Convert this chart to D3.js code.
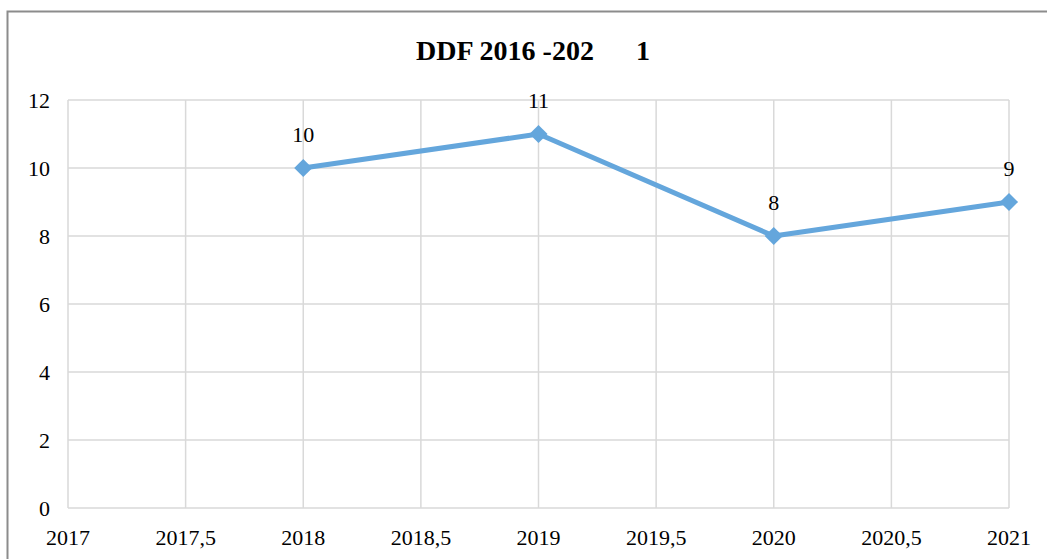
<!DOCTYPE html>
<html><head><meta charset="utf-8">
<script src="https://cdn.jsdelivr.net/npm/d3@7"></script>
<style>body{margin:0;background:#fff}svg{display:block}</style>
</head><body>
<svg id="c" width="1047" height="559"></svg>
<script>
const years = [2018, 2019, 2020, 2021];
const values = [10, 11, 8, 9];
const xTicks = [2017, 2017.5, 2018, 2018.5, 2019, 2019.5, 2020, 2020.5, 2021];
const yTicks = [0, 2, 4, 6, 8, 10, 12];
const title = "DDF 2016 -202\u00a0\u00a0\u00a0\u00a0\u00a0\u00a01";

const svg = d3.select("#c");
const font = "'Liberation Serif','Times New Roman',serif";
const x = d3.scaleLinear().domain([2017, 2021]).range([68, 1009]);
const y = d3.scaleLinear().domain([0, 12]).range([508, 100]);

// frame
svg.append("path").attr("d", "M7.5,559 V11.5 H1047").attr("fill", "none")
  .attr("stroke", "#8c8c8c").attr("stroke-width", 2);

// grid
svg.append("g").selectAll("line").data(yTicks).join("line")
  .attr("x1", x(2017)).attr("x2", x(2021)).attr("y1", d => y(d)).attr("y2", d => y(d))
  .attr("stroke", "#d9d9d9").attr("stroke-width", 1.5);
svg.append("g").selectAll("line").data(xTicks).join("line")
  .attr("x1", d => x(d)).attr("x2", d => x(d)).attr("y1", y(0)).attr("y2", y(12))
  .attr("stroke", "#d9d9d9").attr("stroke-width", 1.5);

// axes labels
const fmt = d => String(d).replace(".", ",");
svg.append("g").selectAll("text").data(yTicks).join("text")
  .attr("x", 50).attr("y", d => y(d)).attr("dy", "0.35em").attr("text-anchor", "end")
  .attr("font-family", font).attr("font-size", 22).attr("fill", "#000").text(d => d);
svg.append("g").selectAll("text").data(xTicks).join("text")
  .attr("x", d => x(d)).attr("y", 545).attr("text-anchor", "middle")
  .attr("font-family", font).attr("font-size", 22).attr("fill", "#000").text(fmt);

// title
svg.append("text").attr("x", 533).attr("y", 60).attr("text-anchor", "middle")
  .attr("font-family", font).attr("font-size", 28).attr("font-weight", "bold")
  .attr("xml:space", "preserve").text(title);

// line
const data = years.map((d, i) => ({x: d, y: values[i]}));
svg.append("path").datum(data)
  .attr("d", d3.line().x(d => x(d.x)).y(d => y(d.y)))
  .attr("fill", "none").attr("stroke", "#64A6DC").attr("stroke-width", 5)
  .attr("stroke-linejoin", "round");
svg.append("g").selectAll("path").data(data).join("path")
  .attr("transform", d => `translate(${x(d.x)},${y(d.y)})`)
  .attr("d", d3.symbol().type(d3.symbolDiamond2).size(210))
  .attr("fill", "#64A6DC");
svg.append("g").selectAll("text").data(data).join("text")
  .attr("x", d => x(d.x)).attr("y", d => y(d.y) - 26).attr("text-anchor", "middle")
  .attr("font-family", font).attr("font-size", 22).attr("fill", "#000").text(d => d.y);
</script>
</body></html>
